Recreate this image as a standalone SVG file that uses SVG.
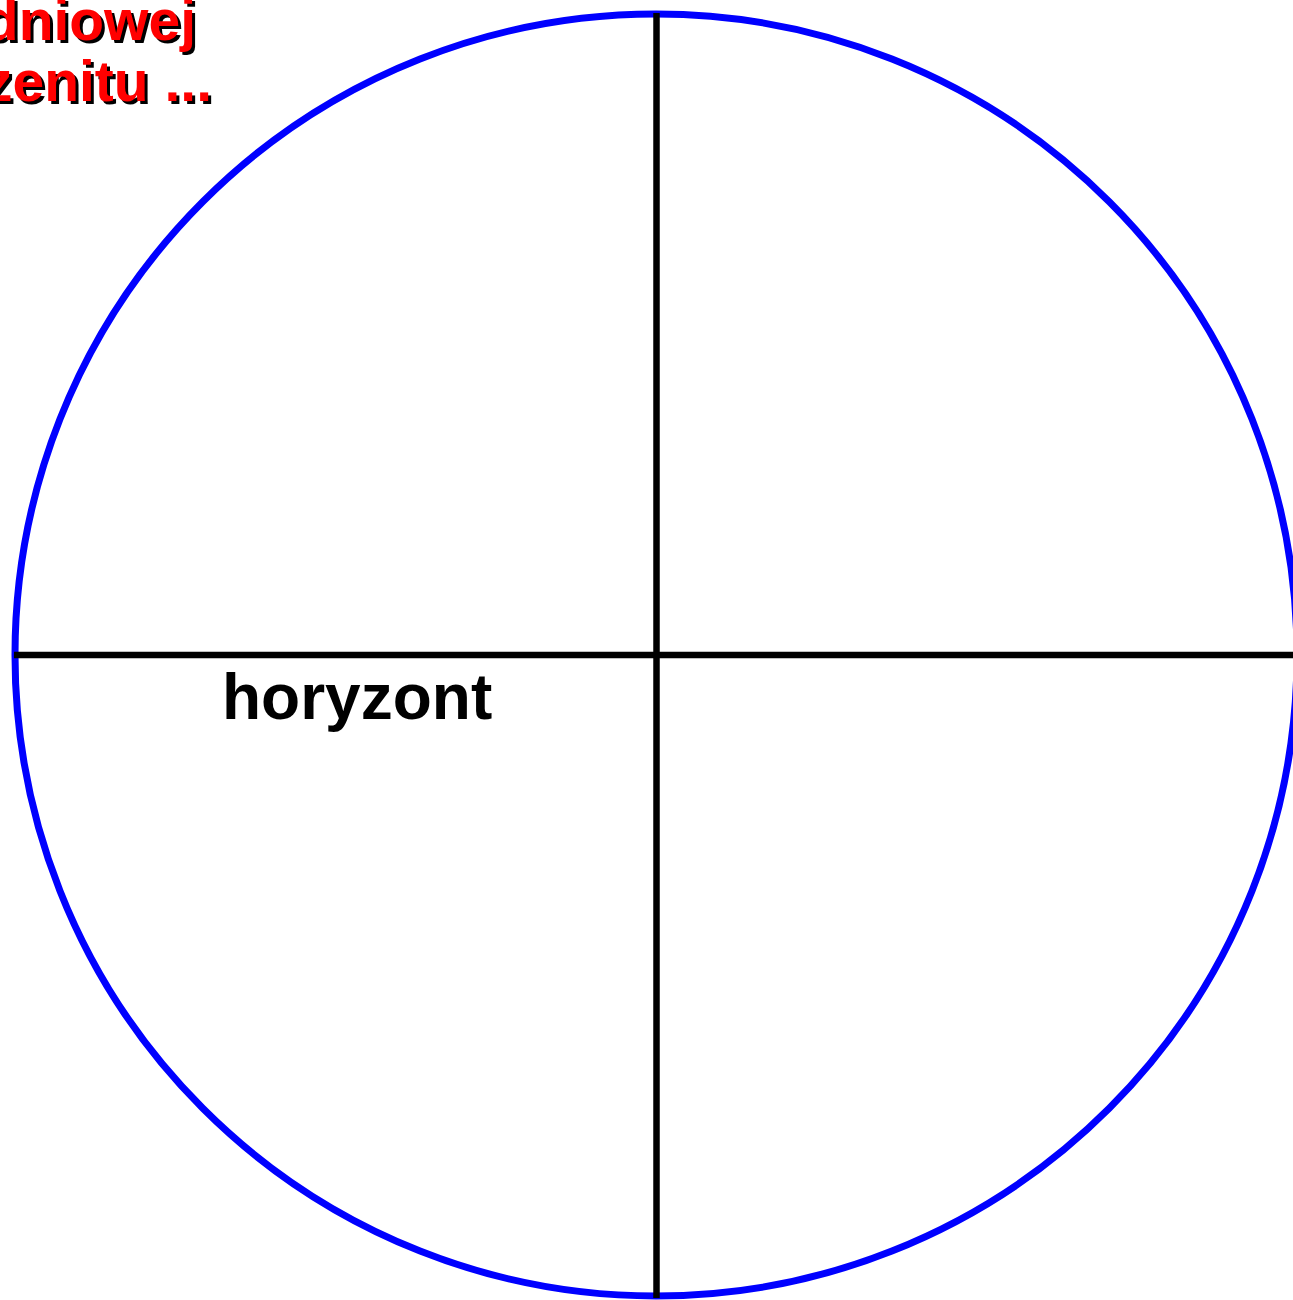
<svg xmlns="http://www.w3.org/2000/svg" width="1293" height="1300" viewBox="0 0 1293 1300">
<style>
.ax{stroke:#000;stroke-width:6.5;fill:none}
.lbl{font-family:"Liberation Sans",Arial,sans-serif;font-weight:bold}
.red{font-size:57px;fill:#ff0000}
.sh{font-size:57px;fill:#000}
</style>
<rect width="1293" height="1300" fill="#fff"/>
<g id="sphere">
<circle cx="656" cy="655" r="641" fill="none" stroke="#0000ff" stroke-width="7"/>
</g>
<g id="connectors">
<line class="ax" x1="656.5" y1="13" x2="656.5" y2="1298"/>
<line class="ax" x1="14" y1="655" x2="1300" y2="655"/>
</g>
<g id="horizon-label">
<text class="lbl" x="222" y="719" font-size="64" fill="#000">horyzont</text>
</g>
<g id="title">
<text class="lbl sh" x="199" y="43" text-anchor="end">dniowej</text>
<text class="lbl red" x="196" y="40" text-anchor="end">dniowej</text>
<text class="lbl sh" x="215" y="104" text-anchor="end">zenitu ...</text>
<text class="lbl red" x="212" y="101" text-anchor="end">zenitu ...</text>
</g>
</svg>
